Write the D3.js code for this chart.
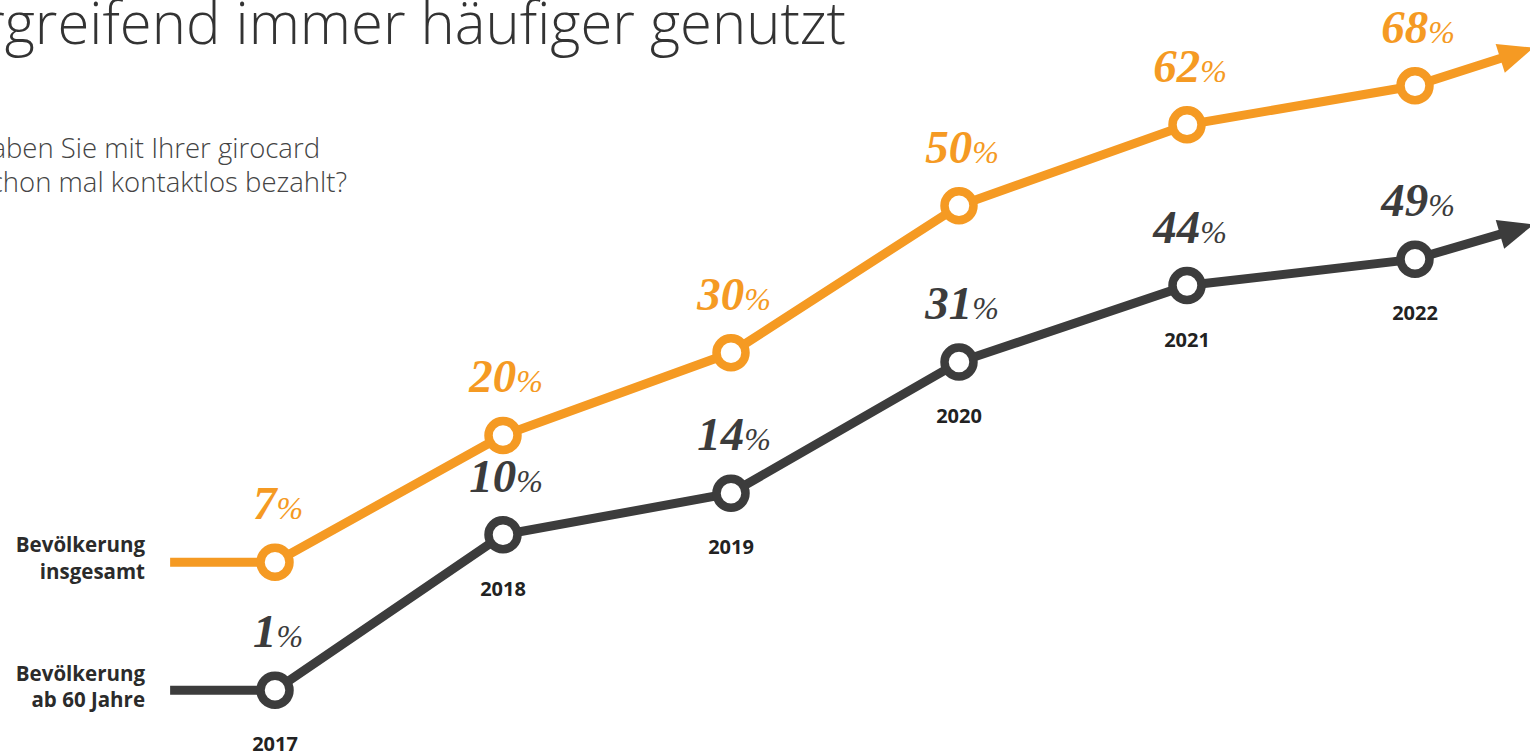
<!DOCTYPE html>
<html>
<head>
<meta charset="utf-8">
<script src="https://cdn.jsdelivr.net/npm/d3@7"></script>
<style>
  html, body { margin: 0; padding: 0; background: #fff; overflow: hidden; }
  svg { display: block; }
</style>
</head>
<body>
<svg id="chart" width="1530" height="751"></svg>
<script>
// ---- data ----
const years = [2017, 2018, 2019, 2020, 2021, 2022];
const valuesTotal = [7, 20, 30, 50, 62, 68];     // Bevölkerung insgesamt
const values60 = [1, 10, 14, 31, 44, 49];        // Bevölkerung ab 60 Jahre
const trendTotal = 74;   // arrow head projection
const trend60 = 56;
const seriesNames = [["Bevölkerung", "insgesamt"], ["Bevölkerung", "ab 60 Jahre"]];
const titleText = "Generationsübergreifend immer häufiger genutzt";
const subtitleLines = ["Haben Sie mit Ihrer girocard", "schon mal kontaktlos bezahlt?"];

// ---- layout ----
const W = 1530, H = 751;
const ORANGE = "#f59a23", DARK = "#3c3c3c";
const leadYear = 2016.54, trendYear = 2022.52;

const svg = d3.select("#chart");

const x = d3.scaleLinear().domain([2017, 2022]).range([275, 1415]);
const yTotal = d3.scalePow().exponent(0.75).domain([0, 70]).range([668, 73]);
const y60 = d3.scaleSqrt().domain([0, 70]).range([762, 161]);

// title & subtitle (cropped on the left as in the reference)
svg.append("text")
  .attr("x", 846).attr("y", 44)
  .attr("text-anchor", "end")
  .attr("font-family", "'Open Sans', 'Noto Sans', sans-serif")
  .attr("font-weight", 300)
  .attr("font-size", 58)
  .attr("fill", "#333")
  .text(titleText);

const subEnds = [320, 347];
svg.selectAll("text.sub").data(subtitleLines).join("text")
  .attr("class", "sub")
  .attr("x", (d, i) => subEnds[i])
  .attr("y", (d, i) => 158 + i * 34)
  .attr("text-anchor", "end")
  .attr("font-family", "'Open Sans', 'Noto Sans', sans-serif")
  .attr("font-weight", 300)
  .attr("font-size", 27.5)
  .attr("fill", "#444")
  .text(d => d);

function drawSeries(values, trend, y, color, nameLines, labelYs) {
  const pts = years.map((yr, i) => [x(yr), y(values[i])]);
  const start = [x(leadYear), y(values[0])];
  const tip = [x(trendYear), y(trend)];
  const last = pts[pts.length - 1];
  const dx = tip[0] - last[0], dy = tip[1] - last[1];
  const len = Math.hypot(dx, dy);
  const ux = dx / len, uy = dy / len;
  const HL = 35, HW = 15;
  const base = [tip[0] - ux * HL, tip[1] - uy * HL];

  const g = svg.append("g");
  g.append("path")
    .attr("d", d3.line()([start, ...pts, [base[0] + ux * 4, base[1] + uy * 4]]))
    .attr("fill", "none")
    .attr("stroke", color)
    .attr("stroke-width", 9)
    .attr("stroke-linejoin", "miter");

  g.append("path")
    .attr("d", d3.line()([tip,
      [base[0] - uy * HW, base[1] + ux * HW],
      [base[0] + uy * HW, base[1] - ux * HW]]) + "Z")
    .attr("fill", color);

  g.selectAll("circle").data(pts).join("circle")
    .attr("cx", d => d[0]).attr("cy", d => d[1])
    .attr("r", 14.5)
    .attr("fill", "#fff")
    .attr("stroke", color)
    .attr("stroke-width", 8.5);

  const lbl = g.selectAll("text.val").data(values).join("text")
    .attr("class", "val")
    .attr("x", (d, i) => x(years[i]) + 3)
    .attr("y", (d, i) => y(d) - 43)
    .attr("text-anchor", "middle")
    .attr("font-family", "'Liberation Serif', 'DejaVu Serif', serif")
    .attr("font-style", "italic")
    .attr("font-weight", "bold")
    .attr("fill", color);
  lbl.append("tspan").attr("font-size", 47).text(d => d);
  lbl.append("tspan").attr("font-size", 32).attr("font-weight", "normal").text("%");

  // series name on the left
  g.selectAll("text.name").data(nameLines).join("text")
    .attr("class", "name")
    .attr("x", 145)
    .attr("y", (d, i) => labelYs[i])
    .attr("text-anchor", "end")
    .attr("font-family", "'Open Sans', 'Noto Sans', sans-serif")
    .attr("font-weight", 700)
    .attr("font-size", 20.5)
    .attr("fill", "#2b2b2b")
    .text(d => d);
  return pts;
}

drawSeries(valuesTotal, trendTotal, yTotal, ORANGE, seriesNames[0], [552, 579]);
drawSeries(values60, trend60, y60, DARK, seriesNames[1], [681, 707]);

// year labels below the lower series
svg.selectAll("text.year").data(years).join("text")
  .attr("class", "year")
  .attr("x", d => x(d))
  .attr("y", (d, i) => y60(values60[i]) + 61)
  .attr("text-anchor", "middle")
  .attr("font-family", "'Open Sans', 'Noto Sans', sans-serif")
  .attr("font-weight", 700)
  .attr("font-size", 20)
  .attr("fill", "#222")
  .text(d => d);
</script>
</body>
</html>
